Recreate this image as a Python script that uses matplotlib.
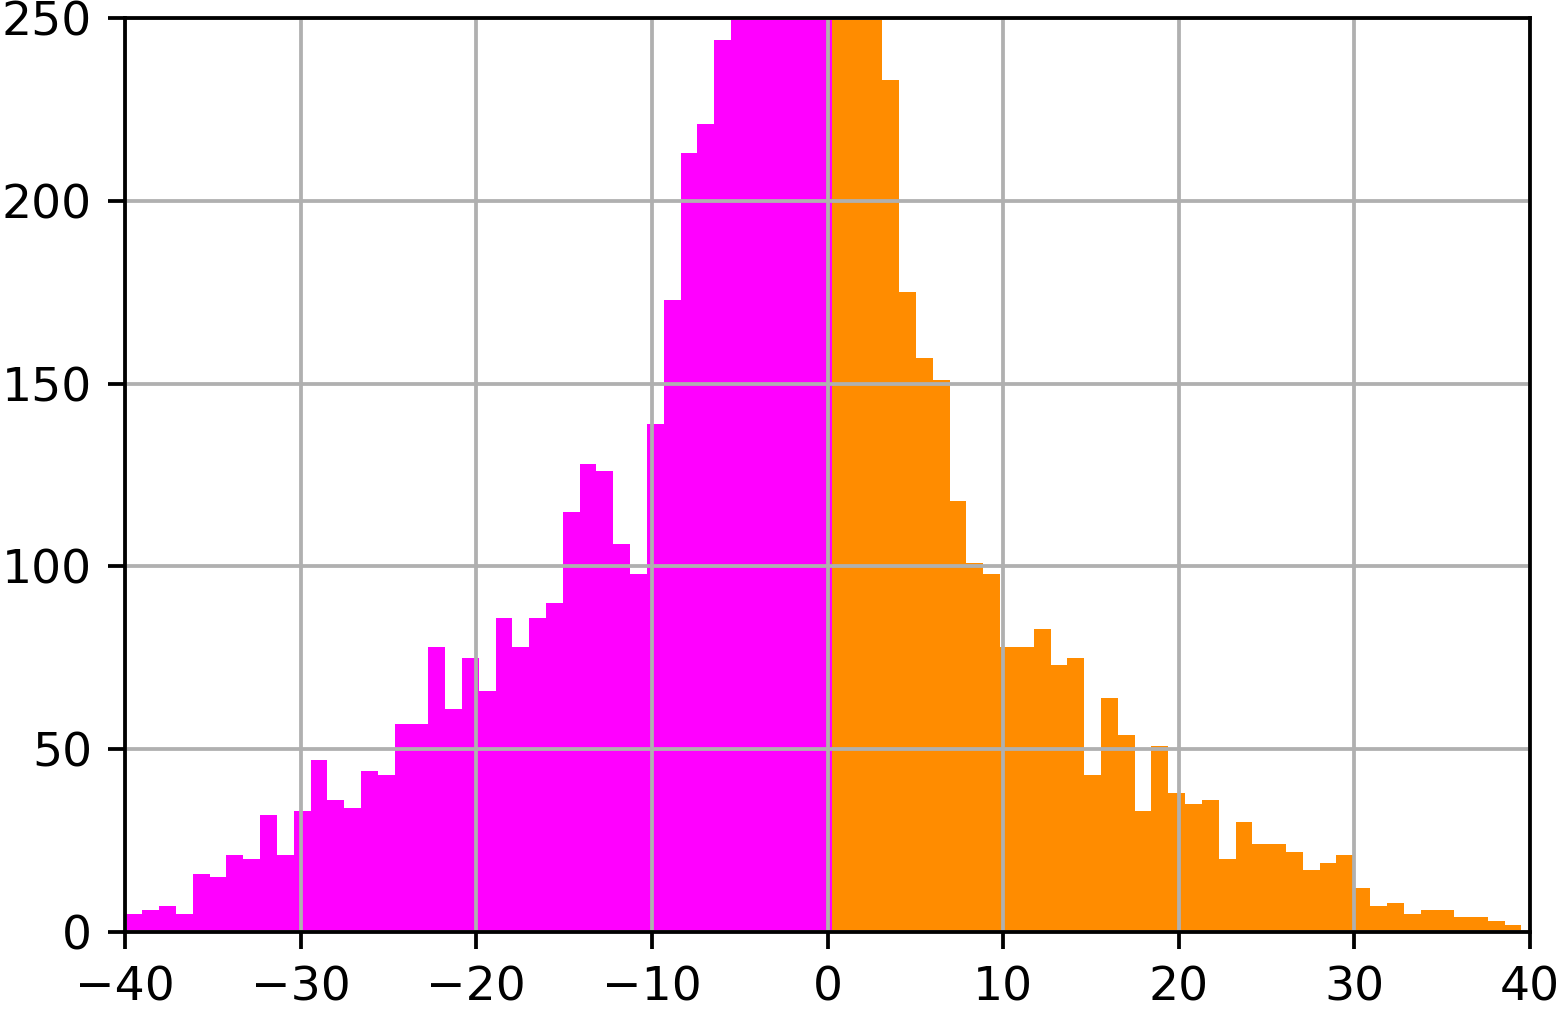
import numpy as np
import matplotlib
matplotlib.use("Agg")
import matplotlib.pyplot as plt

# histogram bin range and counts (83 equal bins)
bin_start, bin_stop, n_bins = -39.97, 39.51, 83

neg_counts = [5, 6, 7, 5, 16, 15, 21, 20, 32, 21, 33, 47, 36, 34, 44, 43,
              57, 57, 78, 61, 75, 66, 86, 78, 86, 90, 115, 128, 126, 106,
              98, 139, 173, 213, 221, 244, 262, 281, 295, 300, 292, 286]
pos_counts = [290, 272, 258, 233, 175, 157, 151, 118, 101, 98, 78, 78, 83,
              73, 75, 43, 64, 54, 33, 51, 38, 35, 36, 20, 30, 24, 24, 22,
              17, 19, 21, 12, 7, 8, 5, 6, 6, 4, 4, 3, 2]

edges = np.linspace(bin_start, bin_stop, n_bins + 1)
k = len(neg_counts)

s = 3.4  # everything is default style scaled up
fig = plt.figure(figsize=(15.63, 10.1), dpi=100)
ax = fig.add_axes([0.080, 0.0772, 0.8989, 0.905])

ax.hist(edges[:k], bins=edges[:k + 1], weights=neg_counts, color='#ff00ff')
ax.hist(edges[k:-1], bins=edges[k:], weights=pos_counts, color='#ff8c00')

ax.set_xlim(-40, 40)
ax.set_ylim(0, 250)
ax.set_xticks([-40, -30, -20, -10, 0, 10, 20, 30, 40])
ax.set_yticks([0, 50, 100, 150, 200, 250])
ax.grid(True, color='#b0b0b0', linewidth=0.8 * s)
for sp in ax.spines.values():
    sp.set_linewidth(0.8 * s)
ax.tick_params(labelsize=10 * s, length=3.5 * s, width=0.8 * s, pad=3.5 * s)

fig.savefig("out.png", dpi=100)
